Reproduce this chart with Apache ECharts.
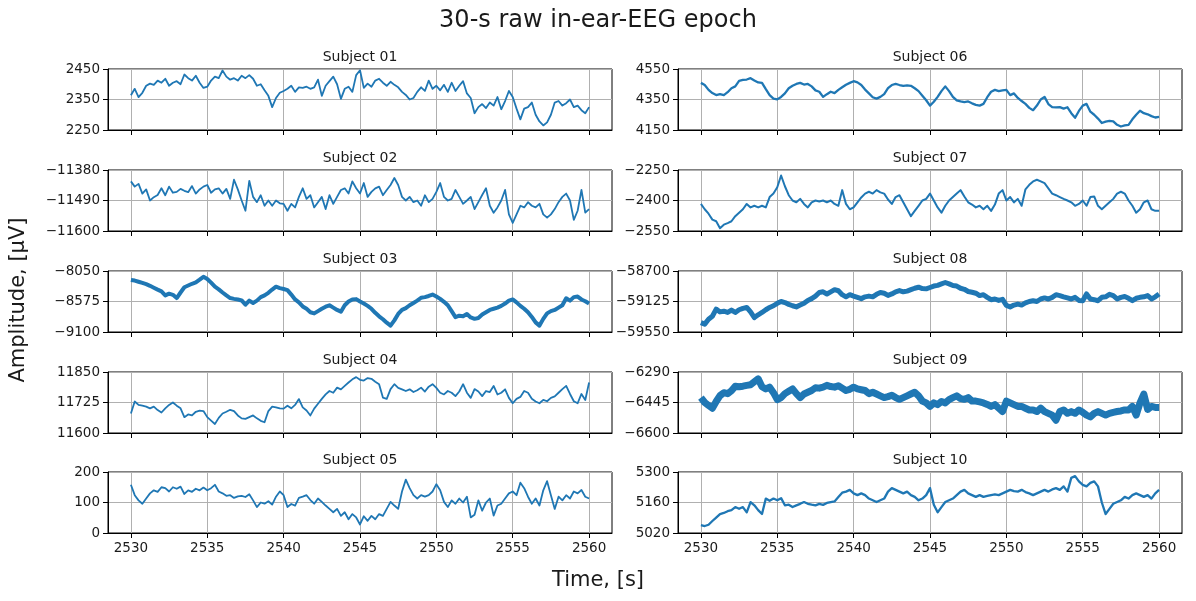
<!DOCTYPE html>
<html><head><meta charset="utf-8">
<script src="https://cdn.jsdelivr.net/npm/echarts@6/dist/echarts.min.js"></script>
<style>html,body{margin:0;padding:0;background:#fff}#c{width:1196px;height:601px}</style>
</head><body><div id="c"></div>
<script>
// ---- data ----
const subjects = ['Subject 01','Subject 02','Subject 03','Subject 04','Subject 05',
                  'Subject 06','Subject 07','Subject 08','Subject 09','Subject 10'];
const yMin = [2250, -11600, -9100, 11600, 0, 4150, -2550, -59550, -6600, 5020];
const yMax = [2450, -11380, -8050, 11850, 200, 4550, -2250, -58700, -6290, 5300];
const xTicks = [2530, 2535, 2540, 2545, 2550, 2555, 2560];
const tStart = 2530, tStep = 0.25;   // sample clock of the traces below

const s01 = [
2364,2385,2358,2372, 2395,2402,2398,2412, 2405,2418,2395,2405, 2410,2400,2432,2420,
2412,2428,2405,2388, 2392,2412,2425,2420, 2445,2425,2415,2420, 2412,2428,2420,2430,
2418,2395,2400,2380, 2362,2325,2355,2372, 2378,2385,2395,2375, 2390,2388,2392,2385,
2390,2415,2362,2395, 2410,2425,2400,2352, 2385,2392,2375,2430, 2446,2388,2402,2392,
2412,2418,2405,2395, 2408,2398,2390,2375, 2365,2350,2355,2375, 2390,2378,2412,2385,
2395,2380,2398,2375, 2405,2378,2395,2410, 2370,2355,2305,2325, 2335,2322,2340,2330,
2358,2318,2345,2378, 2358,2320,2285,2320, 2325,2340,2300,2278, 2265,2275,2300,2340,
2345,2330,2338,2350, 2325,2330,2315,2305, 2325];
const s02 = [
-11421,-11440,-11430,-11465, -11450,-11490,-11478,-11470, -11446,-11471,-11440,-11462,
-11459,-11448,-11455,-11460, -11438,-11465,-11450,-11440, -11434,-11462,-11450,-11446,
-11465,-11448,-11484,-11415, -11450,-11490,-11527,-11419, -11477,-11496,-11471,-11509,
-11490,-11509,-11490,-11500, -11502,-11527,-11502,-11515, -11477,-11446,-11484,-11471,
-11515,-11496,-11477,-11521, -11471,-11502,-11477,-11452, -11446,-11465,-11421,-11446,
-11465,-11427,-11477,-11459, -11446,-11440,-11471,-11452, -11434,-11409,-11434,-11477,
-11490,-11477,-11496,-11490, -11509,-11471,-11496,-11484, -11459,-11427,-11477,-11490,
-11484,-11452,-11477,-11502, -11490,-11477,-11521,-11496, -11470,-11446,-11509,-11534,
-11515,-11490,-11452,-11540, -11571,-11540,-11509,-11515, -11496,-11509,-11515,-11502,
-11540,-11552,-11540,-11521, -11496,-11477,-11465,-11490, -11560,-11527,-11452,-11534,
-11521];
const s03 = [
-8205,-8215,-8235,-8255, -8277,-8305,-8337,-8370, -8400,-8470,-8440,-8460,
-8516,-8420,-8330,-8300, -8270,-8247,-8200,-8150, -8187,-8250,-8320,-8366,
-8420,-8470,-8516,-8530, -8540,-8557,-8630,-8560, -8600,-8560,-8500,-8470,
-8426,-8370,-8320,-8345, -8360,-8380,-8456,-8540, -8590,-8660,-8700,-8760,
-8780,-8740,-8700,-8665, -8640,-8680,-8720,-8750, -8640,-8575,-8540,-8534,
-8575,-8610,-8650,-8700, -8770,-8830,-8880,-8940, -8990,-8900,-8790,-8720,
-8690,-8640,-8600,-8560, -8510,-8500,-8480,-8456, -8490,-8530,-8580,-8640,
-8740,-8844,-8820,-8830, -8790,-8850,-8874,-8860, -8800,-8760,-8720,-8700,
-8680,-8650,-8610,-8560, -8540,-8590,-8650,-8700, -8760,-8840,-8934,-8990,
-8874,-8780,-8740,-8720, -8680,-8640,-8520,-8560, -8500,-8490,-8540,-8570,
-8610];
const s04 = [
11680,11729,11715,11712, 11708,11701,11708,11694, 11684,11701,11715,11725,
11712,11701,11665,11676, 11672,11687,11692,11690, 11665,11651,11637,11662,
11680,11687,11695,11690, 11672,11660,11658,11665, 11672,11660,11650,11644,
11690,11708,11705,11701, 11700,11712,11701,11715, 11739,11705,11692,11672,
11700,11720,11740,11758, 11772,11765,11786,11779, 11793,11807,11820,11829,
11818,11815,11825,11822, 11810,11800,11745,11740, 11780,11800,11785,11779,
11772,11779,11768,11775, 11786,11770,11790,11800, 11785,11765,11758,11772,
11765,11751,11770,11800, 11765,11744,11780,11770, 11751,11772,11768,11793,
11758,11765,11779,11744, 11722,11740,11748,11772, 11765,11740,11729,11722,
11736,11730,11744,11750, 11765,11780,11793,11760, 11730,11722,11760,11735,
11807];
const s05 = [
158,124,107,96, 113,130,140,135, 150,147,136,150, 145,152,128,140,
135,145,140,149, 140,147,158,136, 130,122,124,115, 120,122,118,127,
107,85,100,96, 104,93,119,136, 124,85,95,90, 115,119,124,108,
96,113,102,90, 79,68,79,56, 68,45,62,51, 28,55,40,56,
45,62,56,79, 102,90,79,136, 175,147,124,113, 124,119,124,136,
160,140,102,85, 107,96,113,100, 119,51,60,107, 73,100,113,57,
90,96,113,130, 136,124,165,147, 119,96,113,90, 140,170,124,79,
119,107,124,113, 136,130,141,119, 113];
const s06 = [
4459,4445,4413,4392, 4379,4385,4379,4398, 4424,4436,4472,4478, 4481,4490,4475,4462,
4459,4418,4379,4356, 4351,4367,4390,4424, 4440,4452,4459,4448, 4452,4436,4410,4401,
4367,4385,4401,4392, 4413,4430,4447,4459, 4470,4462,4445,4415, 4390,4365,4356,4367,
4385,4424,4445,4452, 4445,4440,4443,4440, 4424,4405,4375,4345, 4310,4335,4367,4405,
4436,4405,4367,4344, 4337,4333,4337,4325, 4315,4310,4321,4365, 4401,4413,4405,4410,
4413,4379,4390,4360, 4340,4321,4295,4280, 4310,4350,4367,4320, 4300,4299,4300,4290,
4299,4260,4230,4275, 4310,4321,4270,4250, 4225,4196,4205,4210, 4207,4184,4173,4180,
4184,4220,4250,4276, 4260,4253,4241,4232, 4236];
const s07 = [
-2417,-2443,-2465,-2494, -2502,-2536,-2519,-2511, -2502,-2477,-2460,-2443,
-2417,-2434,-2426,-2434, -2426,-2434,-2383,-2366, -2335,-2277,-2330,-2374,
-2400,-2409,-2392,-2417, -2434,-2409,-2400,-2405, -2400,-2409,-2400,-2417,
-2426,-2349,-2417,-2443, -2434,-2409,-2385,-2366, -2357,-2366,-2349,-2360,
-2366,-2395,-2417,-2383, -2374,-2409,-2443,-2477, -2451,-2426,-2400,-2392,
-2366,-2400,-2434,-2460, -2426,-2400,-2383,-2366, -2349,-2380,-2409,-2420,
-2434,-2426,-2443,-2426, -2451,-2420,-2366,-2349, -2400,-2383,-2409,-2392,
-2426,-2345,-2323,-2306, -2298,-2306,-2315,-2340, -2366,-2374,-2383,-2392,
-2400,-2409,-2426,-2417, -2400,-2426,-2383,-2380, -2426,-2443,-2426,-2409,
-2392,-2366,-2357,-2366, -2400,-2426,-2460,-2443, -2409,-2400,-2443,-2451,
-2450];
const s08 = [
-59419,-59440,-59372,-59330, -59231,-59270,-59260,-59278, -59245,-59278,-59240,-59220,
-59208,-59270,-59349,-59310, -59278,-59240,-59208,-59184, -59150,-59125,-59140,-59165,
-59184,-59200,-59175,-59150, -59110,-59085,-59050,-59000, -58990,-59020,-58990,-58960,
-58975,-59030,-59060,-59030, -59050,-59067,-59085,-59060, -59050,-59060,-59025,-59000,
-59010,-59040,-59020,-58990, -58973,-58990,-58980,-58960, -58940,-58926,-58945,-58949,
-58930,-58910,-58900,-58879, -58860,-58880,-58902,-58910, -58940,-58955,-58985,-58996,
-59010,-59043,-59030,-59067, -59100,-59090,-59110,-59095, -59180,-59200,-59175,-59161,
-59175,-59145,-59125,-59114, -59125,-59090,-59075,-59090, -59067,-59030,-59043,-59060,
-59075,-59090,-59067,-59110, -59114,-59020,-59090,-59100, -59114,-59067,-59060,-59025,
-59043,-59090,-59067,-59055, -59080,-59114,-59080,-59067, -59060,-59043,-59090,-59060,
-59020];
const s09 = [
-6420,-6445,-6460,-6474, -6440,-6410,-6395,-6400, -6385,-6362,-6365,-6362,
-6358,-6355,-6340,-6325, -6365,-6376,-6367,-6395, -6430,-6420,-6400,-6388,
-6376,-6400,-6420,-6402, -6393,-6384,-6370,-6372, -6367,-6358,-6364,-6367,
-6360,-6372,-6384,-6378, -6367,-6376,-6380,-6384, -6400,-6393,-6402,-6411,
-6420,-6415,-6408,-6420, -6429,-6420,-6411,-6402, -6393,-6411,-6438,-6447,
-6465,-6447,-6456,-6440, -6447,-6430,-6420,-6411, -6425,-6429,-6420,-6438,
-6438,-6442,-6447,-6455, -6465,-6456,-6474,-6491, -6438,-6447,-6456,-6465,
-6465,-6474,-6483,-6483, -6491,-6474,-6491,-6500, -6509,-6535,-6491,-6483,
-6500,-6491,-6500,-6483, -6495,-6509,-6518,-6500, -6491,-6500,-6509,-6500,
-6495,-6491,-6488,-6483, -6483,-6465,-6509,-6447, -6402,-6480,-6465,-6470,
-6470];
const s10 = [
5056,5052,5058,5075, 5091,5107,5112,5120, 5125,5139,5131,5139, 5115,5162,5147,5125,
5107,5178,5168,5178, 5170,5180,5147,5150, 5139,5147,5154,5162, 5154,5150,5147,5154,
5149,5158,5162,5165, 5185,5205,5210,5218, 5202,5194,5202,5194, 5178,5170,5162,5170,
5178,5210,5226,5218, 5210,5202,5210,5194, 5186,5170,5178,5194, 5226,5150,5115,5139,
5162,5170,5178,5194, 5210,5218,5202,5194, 5186,5194,5186,5190, 5194,5197,5194,5202,
5210,5218,5212,5210, 5218,5208,5202,5194, 5202,5210,5218,5210, 5220,5226,5218,5234,
5210,5273,5281,5257, 5241,5234,5250,5257, 5234,5160,5107,5131, 5154,5162,5170,5186,
5178,5194,5202,5194, 5186,5194,5178,5202, 5218];
const seriesValues = [s01, s02, s03, s04, s05, s06, s07, s08, s09, s10];

// ---- styling / layout ----
const lineWidths = [1.8, 1.8, 4, 1.8, 1.8, 2.3, 2, 5, 7, 2.3];
const colLeft = [108, 678], boxW = 504;
const rowTop = [69, 170, 271, 372, 472], boxH = 61;
const FONT = 'DejaVu Sans';
const TXT = '#1a1a1a';

const grids = [], xAxes = [], yAxes = [], series = [], graphics = [];
subjects.forEach((name, i) => {
  const col = i < 5 ? 0 : 1, row = i % 5;
  const left = colLeft[col], top = rowTop[row];
  grids.push({ left: left, top: top, width: boxW, height: boxH, show: true,
    borderColor: '#000', borderWidth: 1, backgroundColor: 'transparent', containLabel: false });
  xAxes.push({ type: 'value', gridIndex: i, min: 2528.5, max: 2561.5,
    axisLine: { show: true, lineStyle: { color: '#000', width: 1 } },
    axisTick: { show: true, length: 5, lineStyle: { color: '#000' }, customValues: xTicks },
    axisLabel: { show: row === 4, customValues: xTicks, fontSize: 13.5, fontFamily: FONT, color: TXT, margin: 8,
      formatter: v => String(v) },
    splitLine: { show: true, lineStyle: { color: '#b0b0b0', width: 1 } } });
  const mid = (yMin[i] + yMax[i]) / 2;
  yAxes.push({ type: 'value', gridIndex: i, min: yMin[i], max: yMax[i], interval: (yMax[i] - yMin[i]) / 2,
    axisLine: { show: true, lineStyle: { color: '#000', width: 1 } },
    axisTick: { show: true, length: 5, lineStyle: { color: '#000' }, customValues: [yMin[i], mid, yMax[i]] },
    axisLabel: { fontSize: 13.5, fontFamily: FONT, color: TXT, margin: 8, customValues: [yMin[i], mid, yMax[i]],
      formatter: v => String(v).replace('-', '\u2212') },
    splitLine: { show: true, lineStyle: { color: '#b0b0b0', width: 1 } } });
  series.push({ type: 'line', name: name, xAxisIndex: i, yAxisIndex: i, showSymbol: false, symbol: 'none',
    data: seriesValues[i].map((v, k) => [tStart + k * tStep, v]),
    lineStyle: { color: '#1f77b4', width: lineWidths[i], join: 'round' }, itemStyle: { color: '#1f77b4' },
    animation: false });
  graphics.push({ type: 'text', x: left + boxW / 2, y: top - 12,
    style: { text: name, fontSize: 14, fontFamily: FONT, fill: TXT, align: 'center', verticalAlign: 'middle' } });
});
graphics.push({ type: 'text', x: 598, y: 21,
  style: { text: '30-s raw in-ear-EEG epoch', fontSize: 24, fontFamily: FONT, fill: TXT, align: 'center', verticalAlign: 'middle' } });
graphics.push({ type: 'text', x: 598, y: 581,
  style: { text: 'Time, [s]', fontSize: 21, fontFamily: FONT, fill: TXT, align: 'center', verticalAlign: 'middle' } });
graphics.push({ type: 'text', x: 19, y: 300, rotation: Math.PI / 2,
  style: { text: 'Amplitude, [\u00b5V]', fontSize: 21, fontFamily: FONT, fill: TXT, align: 'center', verticalAlign: 'middle' } });

const chart = echarts.init(document.getElementById('c'), null, { renderer: 'canvas' });
chart.setOption({
  animation: false,
  backgroundColor: '#fff',
  grid: grids, xAxis: xAxes, yAxis: yAxes, series: series, graphic: graphics
});
</script></body></html>
